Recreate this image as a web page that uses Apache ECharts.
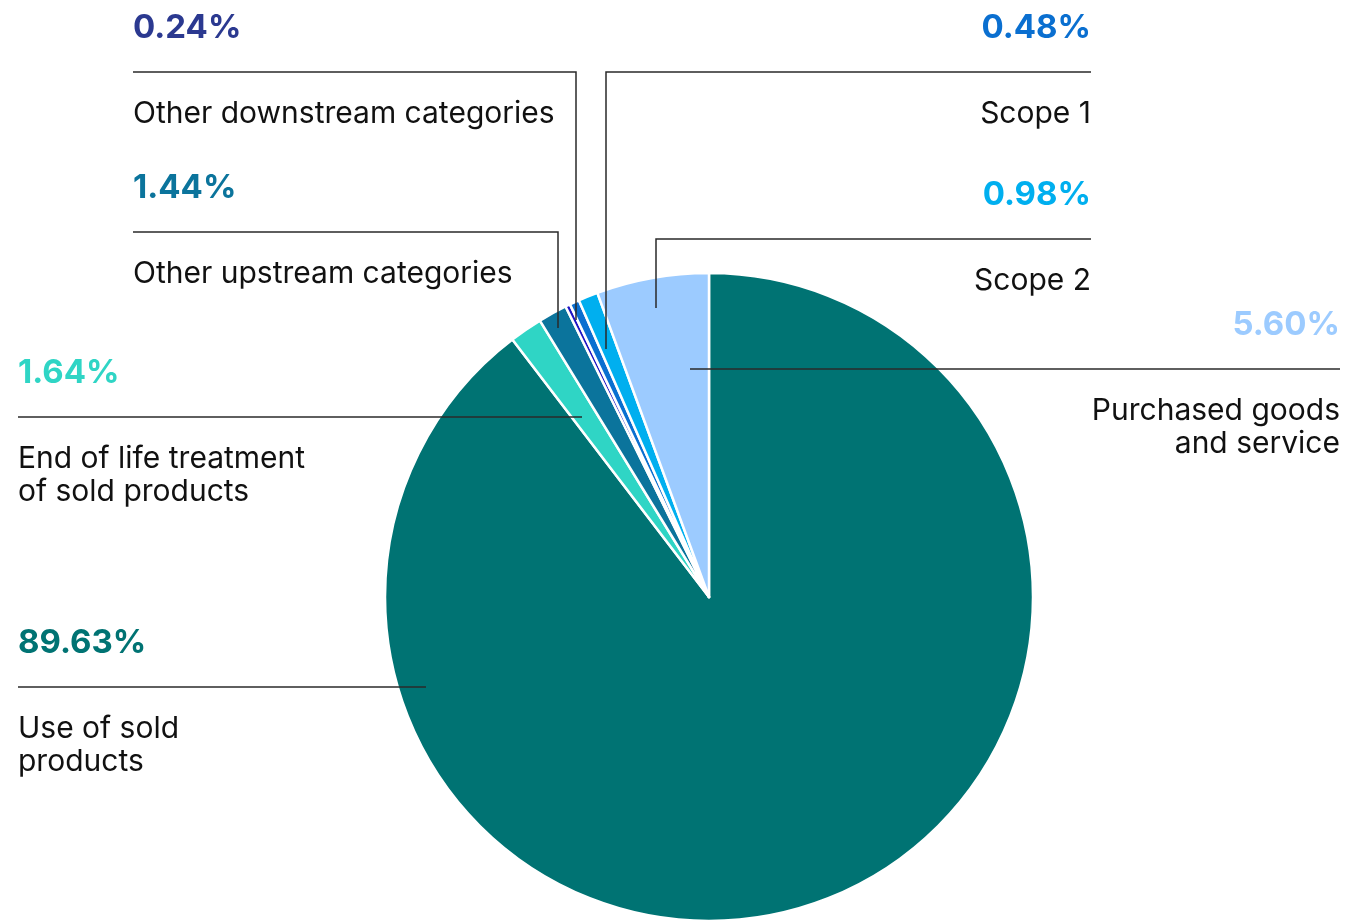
<!DOCTYPE html>
<html>
<head>
<meta charset="utf-8">
<script src="https://cdn.jsdelivr.net/npm/echarts@6/dist/echarts.min.js"></script>
<style>
html,body{margin:0;padding:0;background:#fff;}
#chart{width:1348px;height:920px;}
</style>
</head>
<body>
<div id="chart"></div>
<script>
// ---- data ----
var categories = [
  'Use of sold\nproducts',
  'End of life treatment\nof sold products',
  'Other upstream categories',
  'Other downstream categories',
  'Scope 1',
  'Scope 2',
  'Purchased goods\nand service'
];
var shares = [89.63, 1.64, 1.44, 0.24, 0.48, 0.98, 5.60];
var shareLabels = ['89.63%', '1.64%', '1.44%', '0.24%', '0.48%', '0.98%', '5.60%'];

// ---- styles ----
var sliceColors = ['#007373', '#2fd5c5', '#0b749c', '#1e14c4', '#0a6fd0', '#00afef', '#9ccbff'];
var labelColors = ['#007373', '#2fd5c5', '#0b749c', '#2b3990', '#0a6fd0', '#00afef', '#9ccbff'];

// label layout: text anchor x, alignment, leader line y, and leader line path
var labelSpots = [
  {x: 18,   align: 'left',  lineY: 687, pts: [[426, 687], [426, 687], [18, 687]]},
  {x: 18,   align: 'left',  lineY: 417, pts: [[582, 417], [582, 417], [18, 417]]},
  {x: 133,  align: 'left',  lineY: 232, pts: [[558, 328], [558, 232], [133, 232]]},
  {x: 133,  align: 'left',  lineY: 72,  pts: [[576, 320], [576, 72], [133, 72]]},
  {x: 1091, align: 'right', lineY: 72,  pts: [[606, 349], [606, 72], [1091, 72]]},
  {x: 1091, align: 'right', lineY: 239, pts: [[656, 308], [656, 239], [1091, 239]]},
  {x: 1340, align: 'right', lineY: 369, pts: [[690, 369], [690, 369], [1340, 369]]}
];

var FONT = 'Inter, "Noto Sans", sans-serif';
var P_LH = 40, GAP_LH = 49, N_LH = 33;
var CENTER = [709, 597], RADIUS = 324;

function labelItem(c, i) {
  var a = labelSpots[i].align;
  return {
    show: true,
    formatter: '{p|' + shareLabels[i] + '}\n{g| }\n{n|' + c + '}',
    align: a,
    rich: {
      p: {fontFamily: FONT, fontSize: 33, fontWeight: 700, color: labelColors[i], lineHeight: P_LH, align: a},
      g: {fontSize: 10, lineHeight: GAP_LH, align: a},
      n: {fontFamily: FONT, fontSize: 30, fontWeight: 400, color: '#111', lineHeight: N_LH, align: a}
    }
  };
}

var sliceData = categories.map(function (c, i) {
  return {name: c, value: shares[i], itemStyle: {color: sliceColors[i]}};
});
var labelData = categories.map(function (c, i) {
  return {name: c, value: shares[i], itemStyle: {color: 'rgba(0,0,0,0)', borderWidth: 0}, label: labelItem(c, i)};
});

var chart = echarts.init(document.getElementById('chart'), null, {renderer: 'canvas'});
chart.setOption({
  animation: false,
  backgroundColor: '#ffffff',
  series: [{
    type: 'pie',
    z: 2,
    center: CENTER,
    radius: RADIUS,
    startAngle: 90,
    clockwise: true,
    itemStyle: {borderColor: '#ffffff', borderWidth: 2.5},
    label: {show: false},
    labelLine: {show: false},
    emphasis: {disabled: true},
    data: sliceData
  }, {
    type: 'pie',
    z: 3,
    silent: true,
    center: CENTER,
    radius: RADIUS,
    startAngle: 90,
    clockwise: true,
    avoidLabelOverlap: false,
    label: {show: true, position: 'outside'},
    labelLine: {show: true, smooth: false, lineStyle: {color: '#2a2a2a', width: 1.5}},
    emphasis: {disabled: true},
    labelLayout: function (params) {
      var s = labelSpots[params.dataIndex];
      return {
        x: s.x,
        y: s.lineY - 44 - P_LH / 2,
        align: s.align,
        verticalAlign: 'top',
        labelLinePoints: s.pts
      };
    },
    data: labelData
  }]
});
</script>
</body>
</html>
